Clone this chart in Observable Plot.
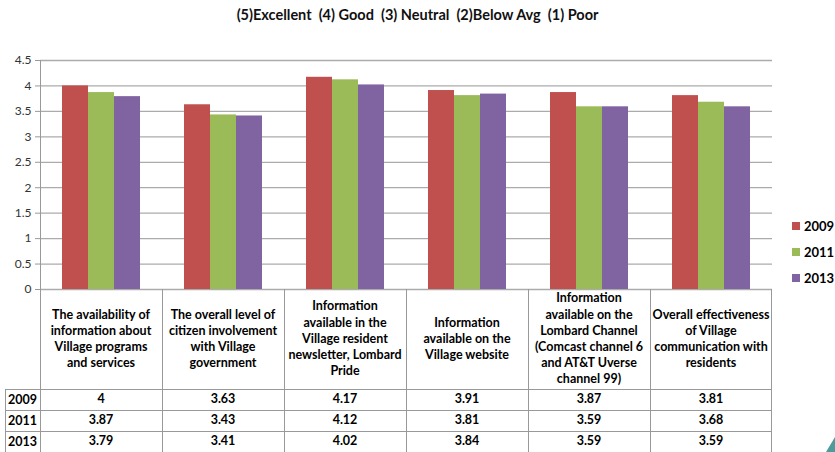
<!DOCTYPE html>
<html>
<head>
<meta charset="utf-8">
<script src="https://cdn.jsdelivr.net/npm/d3@7"></script>
<script src="https://cdn.jsdelivr.net/npm/@observablehq/plot@0.6"></script>
<style>
  html, body { margin: 0; padding: 0; background: #fff; }
  #page { position: relative; width: 835px; height: 452px; overflow: hidden; font-family: Lato, "Noto Sans", sans-serif; color: #000; }
  #title { height: 30px; line-height: 30px; text-align: center; font-weight: bold; font-size: 14.5px; white-space: pre; color: #111; }
  #chart { position: absolute; left: 0; top: 30px; }
  .cell { position: absolute; display: flex; align-items: center; justify-content: center; text-align: center; font-weight: bold; font-size: 12.5px; white-space: pre-line; line-height: 16.2px; }
  .yr { position: absolute; display: flex; align-items: center; font-weight: bold; font-size: 12.5px; }
  .vl { position: absolute; width: 1px; background: #999; }
  .hl { position: absolute; height: 1px; background: #999; }
  .key { position: absolute; display: flex; align-items: center; font-weight: bold; font-size: 13px; white-space: nowrap; }
  .key span.sw { display: inline-block; width: 8px; height: 8px; margin-right: 4px; }
</style>
</head>
<body>
<div id="page">
  <div id="title"></div>
  <div id="chart"></div>
</div>
<script>
// Survey ratings of Village communication, by question and survey year
const titleText = "(5)Excellent  (4) Good  (3) Neutral  (2)Below Avg  (1) Poor";
const categories = [
  "The availability of\ninformation about\nVillage programs\nand services",
  "The overall level of\ncitizen involvement\nwith Village\ngovernment",
  "Information\navailable in the\nVillage resident\nnewsletter, Lombard\nPride",
  "Information\navailable on the\nVillage website",
  "Information\navailable on the\nLombard Channel\n(Comcast channel 6\nand AT&T Uverse\nchannel 99)",
  "Overall effectiveness\nof Village\ncommunication with\nresidents"
];
const years = ["2009", "2011", "2013"];
const values2009 = [4, 3.63, 4.17, 3.91, 3.87, 3.81];
const values2011 = [3.87, 3.43, 4.12, 3.81, 3.59, 3.68];
const values2013 = [3.79, 3.41, 4.02, 3.84, 3.59, 3.59];
const yTicks = [0, 0.5, 1, 1.5, 2, 2.5, 3, 3.5, 4, 4.5];
const colors = ["#C0504D", "#9BBB59", "#8064A2"];

const series = [values2009, values2011, values2013];
const rows = categories.flatMap((c, i) =>
  years.map((y, j) => ({category: c, year: y, value: series[j][i]}))
);

document.getElementById("title").textContent = titleText;

const chart = Plot.plot({
  width: 835,
  height: 272,
  marginTop: 30,
  marginBottom: 13,
  marginLeft: 40,
  marginRight: 63,
  style: {fontFamily: "Lato, 'Noto Sans', sans-serif", fontSize: "12px", color: "#333", background: "transparent"},
  fx: {domain: categories, padding: 0, axis: null},
  x: {domain: years, paddingInner: 0, paddingOuter: 0.76, axis: null},
  y: {domain: [0, 4.5], axis: null},
  color: {domain: years, range: colors},
  marks: [
    Plot.ruleY(yTicks, {stroke: "#ababab", strokeWidth: 1.3}),
    Plot.barY(rows, {fx: "category", x: "year", y: "value", fill: "year"}),
    Plot.axisY({ticks: yTicks, tickFormat: d => String(d), tickSize: 5, tickPadding: 4, stroke: "#999", fill: "#333", label: null, fontSize: 12}),
    Plot.frame({anchor: "left", facetAnchor: "left", stroke: "#999"})
  ]
});
document.getElementById("chart").appendChild(chart);

// Data table under the chart, aligned with the category bands
const page = document.getElementById("page");
const fx = chart.scale("fx");
const bw = fx.bandwidth;
const tableTop = 289, headH = 100, rowH = 21, yearLeft = 5;
const right = fx.apply(categories[categories.length - 1]) + bw;

function add(cls, css, text) {
  const d = document.createElement("div");
  d.className = cls;
  Object.assign(d.style, css);
  if (text != null) d.textContent = text;
  page.appendChild(d);
  return d;
}

categories.forEach((c, i) => {
  const x = fx.apply(c);
  add("vl", {left: x + "px", top: tableTop + "px", height: (452 - tableTop) + "px"});
  add("cell", {left: x + "px", top: tableTop + "px", width: bw + "px", height: headH + "px"}, c);
  series.forEach((s, j) => {
    add("cell", {left: x + "px", top: (tableTop + headH + j * rowH) + "px", width: bw + "px", height: rowH + "px"}, String(s[i]));
  });
});
add("vl", {left: (right - 1) + "px", top: tableTop + "px", height: (452 - tableTop) + "px"});
add("vl", {left: yearLeft + "px", top: (tableTop + headH) + "px", height: (452 - tableTop - headH) + "px"});
years.forEach((y, j) => {
  const t = tableTop + headH + j * rowH;
  add("hl", {left: yearLeft + "px", top: t + "px", width: (right - yearLeft) + "px"});
  add("yr", {left: (yearLeft + 3) + "px", top: t + "px", height: rowH + "px"}, y);
});

// Legend
years.forEach((y, j) => {
  const k = add("key", {left: "792px", top: (217 + j * 26) + "px", height: "18px"});
  const sw = document.createElement("span");
  sw.className = "sw";
  sw.style.background = chart.scale("color").apply(y);
  k.appendChild(sw);
  k.appendChild(document.createTextNode(y));
});

// Corner ornament
const ns = "http://www.w3.org/2000/svg";
const orn = document.createElementNS(ns, "svg");
orn.setAttribute("width", 12);
orn.setAttribute("height", 16);
Object.assign(orn.style, {position: "absolute", left: "823px", top: "436px"});
const poly = document.createElementNS(ns, "polygon");
poly.setAttribute("points", "3,16 12,1 12,16");
poly.setAttribute("fill", "#4f9a9a");
orn.appendChild(poly);
page.appendChild(orn);
</script>
</body>
</html>
